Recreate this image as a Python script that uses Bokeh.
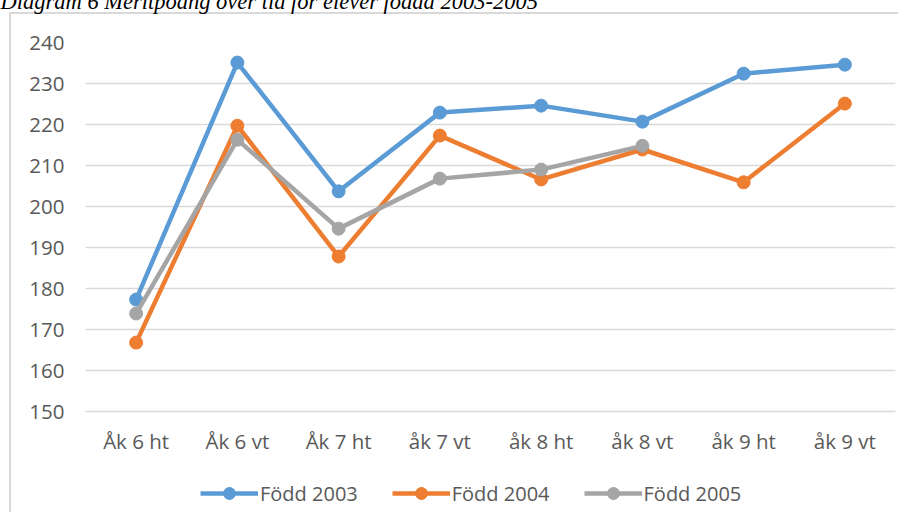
from bokeh.plotting import figure
from bokeh.layouts import column
from bokeh.models import (ColumnDataSource, FixedTicker, Legend, LegendItem,
                          Title, Range1d, FactorRange)
from bokeh.embed import file_html
from bokeh.resources import INLINE

# ---- data ----
categories = ["Åk 6 ht", "Åk 6 vt", "Åk 7 ht", "åk 7 vt",
              "åk 8 ht", "åk 8 vt", "åk 9 ht", "åk 9 vt"]
fodd_2003 = [177.3, 235.1, 203.7, 222.9, 224.6, 220.7, 232.4, 234.6]
fodd_2004 = [166.8, 219.7, 187.8, 217.3, 206.6, 213.9, 205.9, 225.1]
fodd_2005 = [173.9, 216.3, 194.6, 206.8, 209.0, 214.8]
series_names = ["Född 2003", "Född 2004", "Född 2005"]
series_colors = ["#5B9BD5", "#ED7D31", "#A5A5A5"]
y_ticks = [150, 160, 170, 180, 190, 200, 210, 220, 230, 240]
title_text = "Diagram 6 Meritpoäng över tid för elever födda 2003-2005"

FONT = "Open Sans"
TXT = "#595959"
GRID = "#D9D9D9"

p = figure(frame_width=810, frame_height=369,
           x_range=FactorRange(*categories, range_padding=0),
           y_range=Range1d(150, 240), output_backend="svg", toolbar_location=None,
           min_border_left=85, min_border_right=3, min_border_top=41,
           min_border_bottom=61, title=None)
p.outline_line_color = None
p.background_fill_color = "white"
p.border_fill_alpha = 0

p.xgrid.grid_line_color = None
p.ygrid.grid_line_color = GRID
p.ygrid.grid_line_width = 1.5
p.yaxis.ticker = FixedTicker(ticks=y_ticks)
p.yaxis.axis_line_color = None
p.yaxis.major_tick_line_color = None
p.yaxis.minor_tick_line_color = None
p.yaxis.major_tick_out = 0
p.yaxis.major_label_standoff = 21
p.xaxis.axis_line_color = GRID
p.xaxis.axis_line_width = 1.5
p.xaxis.major_tick_line_color = None
p.xaxis.minor_tick_line_color = None
p.xaxis.major_tick_out = 0
p.xaxis.major_label_standoff = 15
for ax in (p.xaxis, p.yaxis):
    ax.major_label_text_font = FONT
    ax.major_label_text_font_size = "20.5px"
    ax.major_label_text_color = TXT

sources = []
for name, vals, col in zip(series_names, [fodd_2003, fodd_2004, fodd_2005], series_colors):
    src = ColumnDataSource(dict(x=categories[:len(vals)], y=vals))
    sources.append(src)
    p.line("x", "y", source=src, line_color=col, line_width=4.5, line_join="round")
    p.scatter("x", "y", source=src, size=13, fill_color=col, line_color=col)

# spacer between frame and title, then the title (clipped at the top edge)
p.add_layout(Title(text=" ", text_font_size="1px", standoff=36), "above")
p.add_layout(Title(text=title_text, align="left", vertical_align="top",
                   offset=-85, standoff=-24, text_font="Liberation Serif",
                   text_font_style="italic", text_font_size="22.5px",
                   text_color="black"), "above")

# ---- legend strip below the chart (same series, drawn outside its view) ----
leg = figure(width=898, height=40, x_range=FactorRange(*categories, range_padding=0),
             y_range=Range1d(0, 1), output_backend="svg", toolbar_location=None,
             x_axis_type=None, y_axis_type=None, min_border=0, title=None)
leg.outline_line_color = None
leg.grid.visible = False
leg.background_fill_alpha = 0
leg.border_fill_alpha = 0
items = []
for name, src, col in zip(series_names, sources, series_colors):
    lr = leg.line("x", "y", source=src, line_color=col, line_width=4.5)
    sr = leg.scatter("x", "y", source=src, size=13, fill_color=col, line_color=col)
    items.append(LegendItem(label=name, renderers=[lr, sr]))
legend = Legend(items=items, orientation="horizontal", location=(115, 4),
                glyph_width=58, glyph_height=30, label_standoff=2, spacing=34,
                padding=0, margin=0, border_line_color=None,
                background_fill_alpha=0,
                label_text_font=FONT, label_text_font_size="20px",
                label_text_color=TXT)
leg.add_layout(legend, "center")

layout = column(p, leg, spacing=0)
# chart-area border (top and left edges)
layout.styles = {"background": (
    "linear-gradient(#D9D9D9,#D9D9D9) 9px 12px / 2px 100% no-repeat, "
    "linear-gradient(#D9D9D9,#D9D9D9) 9px 12px / 100% 2px no-repeat, white")}

open("out.html", "w").write(file_html(layout, INLINE))
